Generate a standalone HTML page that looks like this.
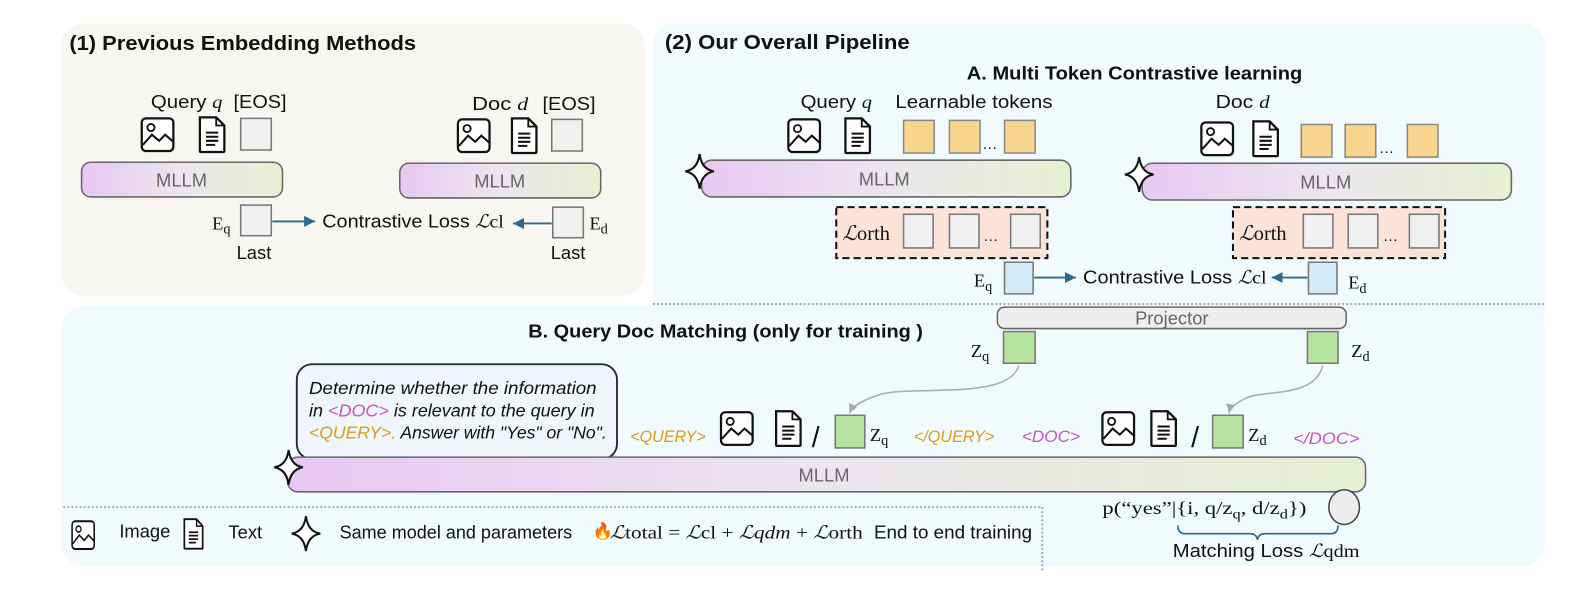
<!DOCTYPE html>
<html><head><meta charset="utf-8"><style>
html,body{margin:0;padding:0;background:#fff;overflow:hidden}
svg{display:block}
text{font-family:"Liberation Sans",sans-serif;font-size:18px;fill:#111}
.b{font-weight:bold}
.m{font-family:"Liberation Serif",serif}
.it{font-style:italic}
.ml{fill:#666;font-size:18px}
</style></head><body>
<svg width="1594" height="602" viewBox="0 0 1563 590" preserveAspectRatio="none" xmlns="http://www.w3.org/2000/svg">
<defs>
<linearGradient id="g" x1="0" x2="1" y1="0" y2="0"><stop offset="0" stop-color="#e8c8f2"/><stop offset="0.5" stop-color="#ebe6ee"/><stop offset="1" stop-color="#e8f0d2"/></linearGradient>
<marker id="ar" markerWidth="8" markerHeight="8" refX="6" refY="3" orient="auto"><path d="M0,0 L6,3 L0,6 z" fill="#2a6a8a"/></marker>
<marker id="ag" markerWidth="8" markerHeight="8" refX="6" refY="3" orient="auto"><path d="M0,0 L6,3 L0,6 z" fill="#aaa"/></marker>
<g id="img"><rect x="1" y="1" width="31" height="32" rx="4" fill="#fff" stroke="#111" stroke-width="2.2"/><circle cx="10" cy="10" r="3.5" fill="none" stroke="#111" stroke-width="1.8"/><path d="M2,27 L11,17 L18,23 L24,17 L32,24" fill="none" stroke="#111" stroke-width="2"/></g>
<g id="doc"><path d="M1,1 H17 L25,9 V34 Q25,35 24,35 H2 Q1,35 1,34 Z" fill="#fff" stroke="#111" stroke-width="2.2"/><path d="M17,1 V9 H25" fill="none" stroke="#111" stroke-width="1.8"/><path d="M7,16 H19 M7,20 H19 M7,24 H19 M7,28 H16" stroke="#111" stroke-width="2"/></g>
<g id="star"><path d="M0,-17 Q2,-2 14,0 Q2,2 0,17 Q-2,2 -14,0 Q-2,-2 0,-17 Z" fill="#fff" stroke="#111" stroke-width="2"/></g>
</defs>

<!-- panels -->
<rect x="60" y="23" width="572" height="267" rx="22" fill="#f7f6f1"/>
<rect x="640" y="23" width="875" height="275" rx="22" fill="#f1fafc"/>
<rect x="60" y="300" width="1455" height="255" rx="22" fill="#f1fafc"/>
<rect x="640" y="280" width="875" height="30" fill="#f1fafc"/>
<line x1="640" y1="298" x2="1515" y2="298" stroke="#aab" stroke-width="2" stroke-dasharray="2,2"/>
<line x1="62" y1="497" x2="1022" y2="497" stroke="#aab" stroke-width="2" stroke-dasharray="2,2"/>
<line x1="1022" y1="497" x2="1022" y2="560" stroke="#aab" stroke-width="2" stroke-dasharray="2,2"/>

<!-- Panel 1 -->
<text x="68" y="49" class="b" style="font-size:20px" textLength="340" lengthAdjust="spacingAndGlyphs">(1) Previous Embedding Methods</text>
<text x="148" y="106" textLength="70" lengthAdjust="spacingAndGlyphs">Query <tspan class="m it">q</tspan></text>
<text x="229" y="106" textLength="52" lengthAdjust="spacingAndGlyphs">[EOS]</text>
<use href="#img" x="138" y="115"/><use href="#doc" x="195" y="114"/>
<rect x="236" y="116" width="30" height="31" fill="#f0f0f0" stroke="#777" stroke-width="1.5"/>
<rect x="80" y="159" width="197" height="34" rx="9" fill="url(#g)" stroke="#666" stroke-width="1.5"/>
<text x="178" y="183" text-anchor="middle" class="ml">MLLM</text>
<text x="463" y="108" textLength="55" lengthAdjust="spacingAndGlyphs">Doc <tspan class="m it">d</tspan></text>
<text x="532" y="108" textLength="52" lengthAdjust="spacingAndGlyphs">[EOS]</text>
<use href="#img" x="448" y="116"/><use href="#doc" x="501" y="115"/>
<rect x="541" y="117" width="30" height="31" fill="#f0f0f0" stroke="#777" stroke-width="1.5"/>
<rect x="392" y="160" width="197" height="34" rx="9" fill="url(#g)" stroke="#666" stroke-width="1.5"/>
<text x="490" y="184" text-anchor="middle" class="ml">MLLM</text>
<text x="208" y="225" class="m">E<tspan dy="4" style="font-size:14px">q</tspan></text>
<rect x="236" y="201" width="30" height="30" fill="#f0f0f0" stroke="#777" stroke-width="1.5"/>
<line x1="267" y1="217" x2="309" y2="217" stroke="#2a6a8a" stroke-width="1.8" marker-end="url(#ar)"/>
<text x="316" y="223" textLength="178" lengthAdjust="spacingAndGlyphs">Contrastive Loss <tspan class="m it">ℒ</tspan><tspan class="m">cl</tspan></text>
<line x1="541" y1="219" x2="503" y2="219" stroke="#2a6a8a" stroke-width="1.8" marker-end="url(#ar)"/>
<rect x="542" y="203" width="30" height="30" fill="#f0f0f0" stroke="#777" stroke-width="1.5"/>
<text x="578" y="225" class="m">E<tspan dy="4" style="font-size:14px">d</tspan></text>
<text x="232" y="254">Last</text><text x="540" y="254">Last</text>

<!-- Panel 2A -->
<text x="652" y="48" class="b" style="font-size:20px" textLength="240" lengthAdjust="spacingAndGlyphs">(2) Our Overall Pipeline</text>
<text x="948" y="78" class="b" textLength="329" lengthAdjust="spacingAndGlyphs">A. Multi Token Contrastive learning</text>
<text x="785" y="106" textLength="70" lengthAdjust="spacingAndGlyphs">Query <tspan class="m it">q</tspan></text>
<text x="878" y="106" textLength="154" lengthAdjust="spacingAndGlyphs">Learnable tokens</text>
<use href="#img" x="772" y="116"/><use href="#doc" x="828" y="115"/>
<g fill="#f9d68f" stroke="#888" stroke-width="1.5">
<rect x="886" y="118" width="30" height="32"/><rect x="931" y="118" width="30" height="32"/><rect x="985" y="118" width="30" height="32"/>
<rect x="1276" y="122" width="30" height="32"/><rect x="1319" y="122" width="30" height="32"/><rect x="1380" y="122" width="30" height="32"/>
</g>
<text x="963" y="146" style="font-size:15px">…</text><text x="1352" y="150" style="font-size:15px">…</text>
<text x="1192" y="106" textLength="53" lengthAdjust="spacingAndGlyphs">Doc <tspan class="m it">d</tspan></text>
<use href="#img" x="1177" y="119"/><use href="#doc" x="1228" y="118"/>
<rect x="688" y="157" width="362" height="36" rx="10" fill="url(#g)" stroke="#666" stroke-width="1.5"/>
<text x="867" y="182" text-anchor="middle" class="ml">MLLM</text>
<rect x="1120" y="160" width="362" height="36" rx="10" fill="url(#g)" stroke="#666" stroke-width="1.5"/>
<text x="1300" y="185" text-anchor="middle" class="ml">MLLM</text>
<use href="#star" x="686" y="168"/><use href="#star" x="1117" y="171"/>
<g fill="#fbe3d8" stroke="#111" stroke-width="2" stroke-dasharray="7,4">
<rect x="820" y="203" width="207" height="50"/><rect x="1209" y="203" width="208" height="50"/>
</g>
<text x="826" y="235" class="m" style="font-size:20px"><tspan class="it">ℒ</tspan>orth</text>
<text x="1215" y="235" class="m" style="font-size:20px"><tspan class="it">ℒ</tspan>orth</text>
<g fill="#f0f0f0" stroke="#777" stroke-width="1.5">
<rect x="886" y="210" width="29" height="33"/><rect x="931" y="210" width="29" height="33"/><rect x="991" y="210" width="29" height="33"/>
<rect x="1278" y="210" width="29" height="33"/><rect x="1322" y="210" width="29" height="33"/><rect x="1382" y="210" width="29" height="33"/>
</g>
<text x="964" y="236" style="font-size:15px">…</text><text x="1356" y="236" style="font-size:15px">…</text>
<text x="955" y="281" class="m">E<tspan dy="4" style="font-size:14px">q</tspan></text>
<rect x="985" y="257" width="28" height="31" fill="#d3ebf9" stroke="#777" stroke-width="1.5"/>
<line x1="1014" y1="272" x2="1055" y2="272" stroke="#2a6a8a" stroke-width="1.8" marker-end="url(#ar)"/>
<text x="1062" y="278" textLength="180" lengthAdjust="spacingAndGlyphs">Contrastive Loss <tspan class="m it">ℒ</tspan><tspan class="m">cl</tspan></text>
<line x1="1282" y1="272" x2="1247" y2="272" stroke="#2a6a8a" stroke-width="1.8" marker-end="url(#ar)"/>
<rect x="1283" y="257" width="28" height="31" fill="#d3ebf9" stroke="#777" stroke-width="1.5"/>
<text x="1322" y="283" class="m">E<tspan dy="4" style="font-size:14px">d</tspan></text>

<!-- Panel B -->
<text x="518" y="331" class="b" textLength="387" lengthAdjust="spacingAndGlyphs">B. Query Doc Matching  (only for training )</text>
<rect x="978" y="301" width="342" height="21" rx="7" fill="#eeeeee" stroke="#666" stroke-width="1.5"/>
<text x="1149" y="318" text-anchor="middle" class="ml">Projector</text>
<rect x="984" y="325" width="31" height="31" fill="#b6e3a0" stroke="#777" stroke-width="1.5"/>
<text x="952" y="350" class="m">Z<tspan dy="4" style="font-size:14px">q</tspan></text>
<rect x="1282" y="325" width="30" height="31" fill="#b6e3a0" stroke="#777" stroke-width="1.5"/>
<text x="1325" y="350" class="m">Z<tspan dy="4" style="font-size:14px">d</tspan></text>
<path d="M999,358 C990,392 900,378 865,386 C845,392 836,398 833,405" fill="none" stroke="#aaa" stroke-width="1.5" marker-end="url(#ag)"/>
<path d="M1297,358 C1290,390 1240,382 1222,390 C1210,396 1206,400 1205,405" fill="none" stroke="#aaa" stroke-width="1.5" marker-end="url(#ag)"/>
<rect x="291" y="357" width="314" height="93" rx="15" fill="#f0f4fb" stroke="#223" stroke-width="1.8"/>
<text x="303" y="386" class="it" style="font-size:17px" textLength="282" lengthAdjust="spacingAndGlyphs">Determine whether the information</text>
<text x="303" y="408" class="it" style="font-size:17px" textLength="280" lengthAdjust="spacingAndGlyphs">in <tspan fill="#c855c0">&lt;DOC&gt;</tspan> is relevant to the query in</text>
<text x="303" y="430" class="it" style="font-size:17px" textLength="292" lengthAdjust="spacingAndGlyphs"><tspan fill="#d4a017">&lt;QUERY&gt;.</tspan> Answer with "Yes" or "No".</text>
<text x="618" y="433" class="it" style="font-size:16px;fill:#d4a017" textLength="74" lengthAdjust="spacingAndGlyphs">&lt;QUERY&gt;</text>
<text x="896" y="433" class="it" style="font-size:16px;fill:#d4a017" textLength="79" lengthAdjust="spacingAndGlyphs">&lt;/QUERY&gt;</text>
<text x="1002" y="433" class="it" style="font-size:16px;fill:#c855c0" textLength="57" lengthAdjust="spacingAndGlyphs">&lt;DOC&gt;</text>
<text x="1268" y="435" class="it" style="font-size:16px;fill:#c855c0" textLength="65" lengthAdjust="spacingAndGlyphs">&lt;/DOC&gt;</text>
<use href="#img" x="706" y="403"/>
<use href="#doc" x="760" y="402"/>
<text x="796" y="438" style="font-size:28px">/</text>
<rect x="819" y="407" width="29" height="32" fill="#b6e3a0" stroke="#777" stroke-width="1.5"/>
<text x="853" y="432" class="m">Z<tspan dy="4" style="font-size:14px">q</tspan></text>
<use href="#img" x="1080" y="403"/>
<use href="#doc" x="1128" y="402"/>
<text x="1168" y="438" style="font-size:28px">/</text>
<rect x="1189" y="407" width="30" height="32" fill="#b6e3a0" stroke="#777" stroke-width="1.5"/>
<text x="1224" y="432" class="m">Z<tspan dy="4" style="font-size:14px">d</tspan></text>
<rect x="282" y="448" width="1057" height="34" rx="10" fill="url(#g)" stroke="#666" stroke-width="1.5"/>
<text x="808" y="472" text-anchor="middle" class="ml">MLLM</text>
<use href="#star" x="283" y="458"/>
<text x="1081" y="504" class="m" textLength="200" lengthAdjust="spacingAndGlyphs">p(“yes”|{i, q/z<tspan dy="4" style="font-size:13px">q</tspan><tspan dy="-4">, d/z</tspan><tspan dy="4" style="font-size:13px">d</tspan><tspan dy="-4">})</tspan></text>
<ellipse cx="1318" cy="497" rx="15" ry="17" fill="#eee" stroke="#444" stroke-width="1.5"/>
<path d="M1155,515 Q1155,523 1162,523 L1226,523 Q1232,523 1233,529 Q1234,523 1240,523 L1305,523 Q1312,523 1312,515" fill="none" stroke="#2a6a8a" stroke-width="1.6"/>
<text x="1150" y="546" textLength="183" lengthAdjust="spacingAndGlyphs">Matching Loss <tspan class="m it">ℒ</tspan><tspan class="m">qdm</tspan></text>

<!-- legend -->
<use href="#img" x="70" y="510" transform="translate(70 510) scale(0.7 0.85) translate(-70 -510)"/>
<text x="117" y="527">Image</text>
<use href="#doc" x="180" y="508" transform="translate(180 508) scale(0.75 0.85) translate(-180 -508)"/>
<text x="224" y="528">Text</text>
<use href="#star" x="300" y="523"/>
<text x="333" y="528" textLength="228" lengthAdjust="spacingAndGlyphs">Same model and parameters</text>
<text x="581" y="526" style="font-size:16px;fill:#e8561c">🔥</text>
<text x="598" y="528" class="m" textLength="248" lengthAdjust="spacingAndGlyphs"><tspan class="it">ℒ</tspan>total = <tspan class="it">ℒ</tspan>cl + <tspan class="it">ℒqdm</tspan> + <tspan class="it">ℒ</tspan>orth</text>
<text x="857" y="528" textLength="155" lengthAdjust="spacingAndGlyphs">End to end training</text>
</svg>
</body></html>
